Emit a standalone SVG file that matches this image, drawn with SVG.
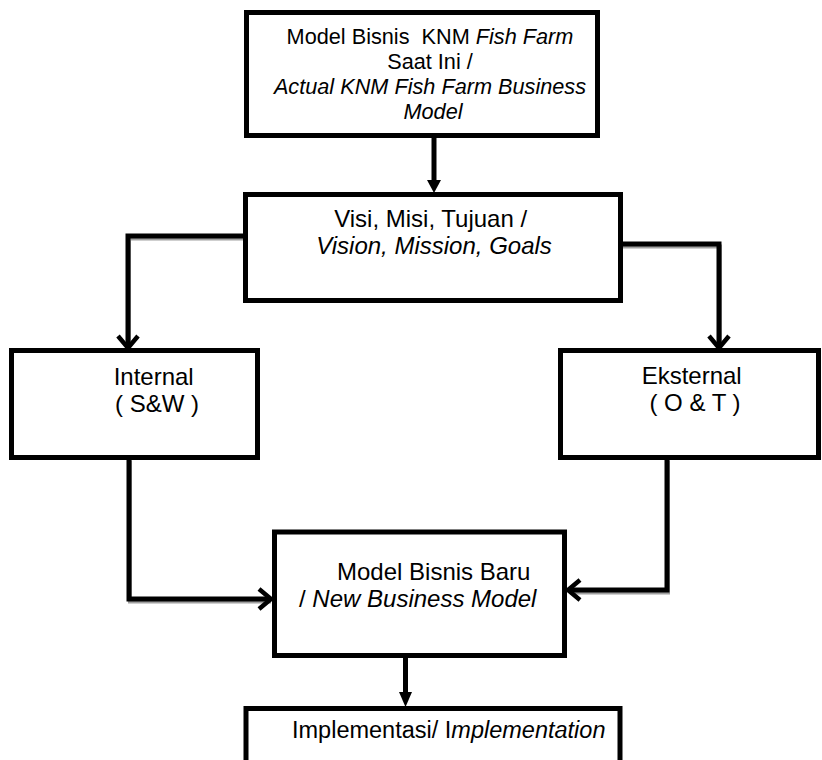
<svg xmlns="http://www.w3.org/2000/svg" width="822" height="760" viewBox="0 0 822 760">
<style>
.box{fill:#fff;stroke:#000;stroke-width:5}
.t{font-family:"Liberation Sans",Arial,sans-serif;fill:#000}
.i{font-style:italic}
.c{fill:none;stroke:#000;stroke-width:5}
.sh{fill:none;stroke:#a0a0a0;stroke-width:4}
.chev{fill:none;stroke:#000;stroke-width:4.5;stroke-linejoin:miter}
</style>
<rect width="822" height="760" fill="#fff"/>
<g id="connectors">
  <g transform="translate(1,2.5)">
    <path class="sh" d="M245,236 H128 V346"/>
    <path class="sh" d="M621,244 H719 V346"/>
    <path class="sh" d="M129,458 V599 H270"/>
    <path class="sh" d="M667,458 V590 H569"/>
  </g>
  <path class="c" d="M434,136 V182"/>
  <polygon points="427,180 441,180 434,193" fill="#000"/>
  <path class="c" d="M245,236 H128 V346"/>
  <path class="chev" d="M118,336 L128,348 L138,336"/>
  <path class="c" d="M621,244 H719 V346"/>
  <path class="chev" d="M709,336 L719,348 L729,336"/>
  <path class="c" d="M129,458 V599 H270"/>
  <path class="chev" d="M259,589 L271,599 L259,609"/>
  <path class="c" d="M667,458 V590 H569"/>
  <path class="chev" d="M580,580 L568,590 L580,600"/>
  <path class="c" d="M405.5,656 V694"/>
  <polygon points="399,692 412,692 405.5,707" fill="#000"/>
</g>
<g id="node-actual">
  <rect class="box" x="246.5" y="12.5" width="351" height="123"/>
  <text class="t" font-size="21.7" text-anchor="middle">
    <tspan x="433" y="44">Model Bisnis &#160;KNM <tspan class="i">Fish Farm</tspan></tspan>
    <tspan x="433" y="69">Saat Ini /</tspan>
    <tspan x="433" y="94" class="i">Actual KNM Fish Farm Business</tspan>
    <tspan x="433" y="119" class="i">Model</tspan>
  </text>
</g>
<g id="node-visi">
  <rect class="box" x="245.5" y="194.5" width="375" height="106"/>
  <text class="t" font-size="24" text-anchor="middle">
    <tspan x="434" y="227">Visi, Misi, Tujuan /</tspan>
    <tspan x="434" y="254" class="i">Vision, Mission, Goals</tspan>
  </text>
</g>
<g id="node-internal">
  <rect class="box" x="11.5" y="350.5" width="246" height="107"/>
  <text class="t" font-size="24" text-anchor="middle">
    <tspan x="157" y="385">Internal</tspan>
    <tspan x="157" y="412">( S&amp;W )</tspan>
  </text>
</g>
<g id="node-eksternal">
  <rect class="box" x="560.5" y="350.5" width="258" height="107"/>
  <text class="t" font-size="24" text-anchor="middle">
    <tspan x="695" y="384">Eksternal</tspan>
    <tspan x="695" y="411">( O &amp; T )</tspan>
  </text>
</g>
<g id="node-new">
  <rect class="box" x="274.5" y="532" width="290" height="123.5"/>
  <text class="t" font-size="24">
    <tspan x="337" y="580">Model Bisnis Baru</tspan>
    <tspan x="299" y="607">/ <tspan class="i">New Business Model</tspan></tspan>
  </text>
</g>
<g id="node-implementation">
  <rect class="box" x="246" y="708.5" width="374" height="70"/>
  <text class="t" font-size="23.5">
    <tspan x="292" y="738">Implementasi/ I<tspan class="i">mplementation</tspan></tspan>
  </text>
</g>
</svg>
